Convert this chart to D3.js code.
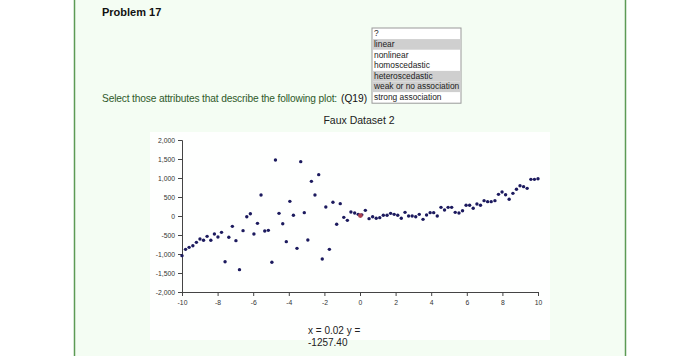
<!DOCTYPE html>
<html><head><meta charset="utf-8">
<script src="https://cdn.jsdelivr.net/npm/d3@7"></script>
<style>
html,body{margin:0;padding:0;background:#fff;}
svg{display:block;font-family:"Liberation Sans",Arial,Helvetica,sans-serif;}
</style></head>
<body><svg id="c" width="700" height="356"></svg>
<script>
const xTicks = [-10,-8,-6,-4,-2,0,2,4,6,8,10];
const yTicks = [-2000,-1500,-1000,-500,0,500,1000,1500,2000];
const options = ["?","linear","nonlinear","homoscedastic","heteroscedastic","weak or no association","strong association"];
const selected = [false,true,false,false,true,true,false];
const xValues = [-10.00,-9.80,-9.60,-9.39,-9.19,-8.99,-8.79,-8.59,-8.38,-8.18,-7.98,-7.78,-7.58,-7.37,-7.17,-6.97,-6.77,-6.57,-6.36,-6.16,-5.96,-5.76,-5.56,-5.35,-5.15,-4.95,-4.75,-4.55,-4.34,-4.14,-3.94,-3.74,-3.54,-3.33,-3.13,-2.93,-2.73,-2.53,-2.32,-2.12,-1.92,-1.72,-1.52,-1.31,-1.11,-0.91,-0.71,-0.51,-0.30,-0.10,
 0.10,0.30,0.51,0.71,0.91,1.11,1.31,1.52,1.72,1.92,2.12,2.32,2.53,2.73,2.93,3.13,3.33,3.54,3.74,3.94,4.14,4.34,4.55,4.75,4.95,5.15,5.35,5.56,5.76,5.96,6.16,6.36,6.57,6.77,6.97,7.17,7.37,7.58,7.78,7.98,8.18,8.38,8.59,8.79,8.99,9.19,9.39,9.60,9.80,10.00];
const yValues = [-1044,-877,-825,-781,-693,-605,-640,-535,-640,-474,-553,-430,-1202,-561,-272,-649,-1412,-386,-18,61,-474,-193,553,-395,-377,-1219,1474,70,-202,-675,386,18,-851,1430,88,-632,912,553,1088,-1132,237,-877,360,-219,325,-35,-114,105,79,44,
 30,149,-70,-18,-61,-44,18,18,70,44,18,-61,96,0,0,-18,44,-88,26,88,88,0,228,158,228,228,96,79,140,281,281,202,316,281,404,377,377,404,570,632,561,439,596,702,798,772,728,965,965,982];
const hover = {x:0.02, y:10};
const readout = ["x = 0.02 y =", "-1257.40"];

const svg = d3.select("#c");
// page frame
svg.append("rect").attr("x",74).attr("y",0).attr("width",551).attr("height",356).attr("fill","#f4fdf3");
svg.append("rect").attr("x",150).attr("y",132).attr("width",400).attr("height",208).attr("fill","#fefffe");
svg.append("line").attr("x1",74.5).attr("x2",74.5).attr("y1",0).attr("y2",356).attr("stroke","#5c9a55").attr("stroke-width",1.5);
svg.append("line").attr("x1",625.5).attr("x2",625.5).attr("y1",0).attr("y2",356).attr("stroke","#5c9a55").attr("stroke-width",1.5);

svg.append("text").attr("x",102).attr("y",16).attr("font-size",11).attr("font-weight","bold").attr("fill","#111").text("Problem 17");

// fit a text into a width by tightening letter spacing, then by shrinking font
function fitText(sel, target){
  const n = sel.text().length;
  let w = sel.node().getComputedTextLength();
  if (w > target) {
    const ls = Math.max(-0.35, (target - w) / n);
    sel.attr("letter-spacing", ls.toFixed(3));
    w = sel.node().getComputedTextLength();
    if (w > target) {
      const fs = +sel.attr("font-size");
      sel.attr("font-size", (fs * target / w).toFixed(2));
    }
  }
}
const q1 = svg.append("text").attr("x",102).attr("y",102).attr("font-size",10.2).attr("fill","#2f5a2a")
  .text("Select those attributes that describe the following plot:");
fitText(q1, 235);
const q2 = svg.append("text").attr("x",341).attr("y",102).attr("font-size",10.2).attr("fill","#111").text("(Q19)");
fitText(q2, 27);

// select box
const sx = 372, sy = 28, sw = 89, ih = 10.6;
const sel = svg.append("g");
sel.append("rect").attr("x",sx).attr("y",sy).attr("width",sw).attr("height",ih*options.length+1).attr("fill","#fff").attr("stroke","#999");
sel.selectAll("rect.opt").data(options).join("rect").attr("class","opt")
  .attr("x",sx+0.5).attr("y",(d,i)=>sy+0.5+i*ih).attr("width",sw-1).attr("height",ih)
  .attr("fill",(d,i)=>selected[i]?"#cfcfcf":"none");
sel.selectAll("text").data(options).join("text")
  .attr("x",sx+2).attr("y",(d,i)=>sy+8.4+i*ih).attr("font-size",8.4).attr("fill","#222").text(d=>d);

svg.append("text").attr("x",359).attr("y",124).attr("text-anchor","middle").attr("font-size",10.5).attr("fill","#222").text("Faux Dataset 2");

const x = d3.scaleLinear().domain([-10,10]).range([182,538]);
const y = d3.scaleLinear().domain([-2000,2000]).range([292,140]);
const loc = d3.formatLocale({decimal:".",thousands:",",grouping:[3],currency:["$",""],minus:"-"});
const fmt = loc.format(",");

const ya = svg.append("g").attr("transform","translate(182,0)").call(d3.axisLeft(y).tickValues(yTicks).tickFormat(fmt).tickSize(4));
const xa = svg.append("g").attr("transform","translate(0,292)").call(d3.axisBottom(x).tickValues(xTicks).tickFormat(fmt).tickSize(4));
[ya,xa].forEach(a=>{
  a.selectAll("text").attr("font-size",6.8).attr("fill","#333").attr("font-family","Liberation Sans,Arial,sans-serif");
  a.selectAll("path,line").attr("stroke","#444");
});
xa.selectAll("text").attr("dy","0.9em");

svg.append("g").selectAll("circle").data(xValues.map((v,i)=>[v,yValues[i]])).join("circle")
  .attr("cx",d=>x(d[0])).attr("cy",d=>y(d[1])).attr("r",1.7).attr("fill","#1c1a5e");
svg.append("circle").attr("cx",x(hover.x)).attr("cy",y(hover.y)).attr("r",2.4).attr("fill","#a84050");

svg.append("g").selectAll("text").data(readout).join("text")
  .attr("x",308).attr("y",(d,i)=>334+i*12).attr("font-size",10).attr("fill","#222").text(d=>d);
</script></body></html>
